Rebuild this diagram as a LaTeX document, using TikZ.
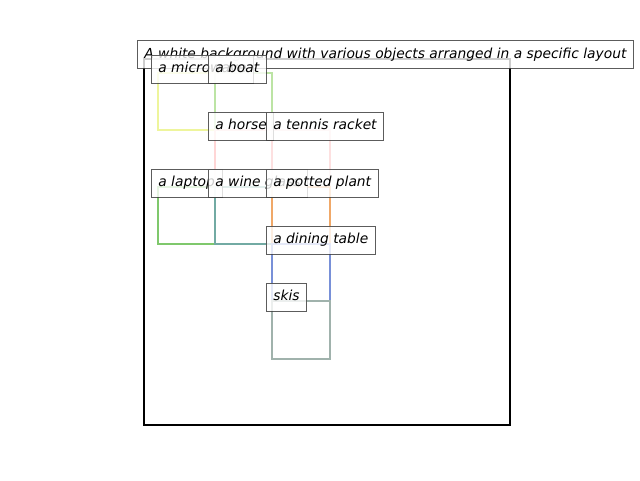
\documentclass[tikz,border=0pt]{standalone}
\usepackage{fontspec}
\setmainfont{DejaVu Sans}
\begin{document}
\begin{tikzpicture}[x=1pt,y=-1pt,
  region/.style={line width=2.4pt, line join=miter},
  tag/.style={draw=black!75, line width=0.8pt, fill=white, fill opacity=0.8, draw opacity=0.85, text opacity=1,
    font=\fontsize{13.8}{16}\selectfont\itshape, inner xsep=7pt, inner ysep=7pt,
    text height=10.6pt, text depth=3.2pt, anchor=west},
]
\definecolor{cMicro}{HTML}{EEF59C}
\definecolor{cBoat}{HTML}{BCE4A4}
\definecolor{cHorse}{HTML}{FFD6D6}
\definecolor{cRacket}{HTML}{FDE0E0}
\definecolor{cLaptop}{HTML}{7FC86C}
\definecolor{cWine}{HTML}{72AAA3}
\definecolor{cPlant}{HTML}{F0A868}
\definecolor{cTable}{HTML}{7890D8}
\definecolor{cSkis}{HTML}{A0B2AC}
\useasboundingbox (0,0) rectangle (640,480);

% outer frame
\draw[line width=2pt] (144,59) rectangle (510,425);

% object regions
\draw[region, cMicro]  (158,73)  rectangle (215,130);
\draw[region, cBoat]   (215,73)  rectangle (272,130);
\draw[region, cHorse]  (215,130) rectangle (272,187);
\draw[region, cRacket] (272,130) rectangle (330,187);
\draw[region, cLaptop] (158,187) rectangle (215,244);
\draw[region, cWine]   (215,187) rectangle (272,244);
\draw[region, cPlant]  (272,187) rectangle (330,244);
\draw[region, cTable]  (272,244) rectangle (330,301);
\draw[region, cSkis]   (272,301) rectangle (330,359);

% caption
\node[tag] (title) at (137,54.5) {A white background with various objects arranged in a specific layout};

% object labels
\node[tag] (micro)  at (151,69)  {a microwave};
\node[tag] (boat)   at (208,69)  {a boat};
\node[tag] (horse)  at (208,126) {a horse};
\node[tag] (racket) at (266,126) {a tennis racket};
\node[tag] (laptop) at (151,183) {a laptop};
\node[tag] (wine)   at (208,183) {a wine glass};
\node[tag] (plant)  at (266,183) {a potted plant};
\node[tag] (table)  at (266,240) {a dining table};
\node[tag] (skis)   at (266,297) {skis};
\end{tikzpicture}
\end{document}
